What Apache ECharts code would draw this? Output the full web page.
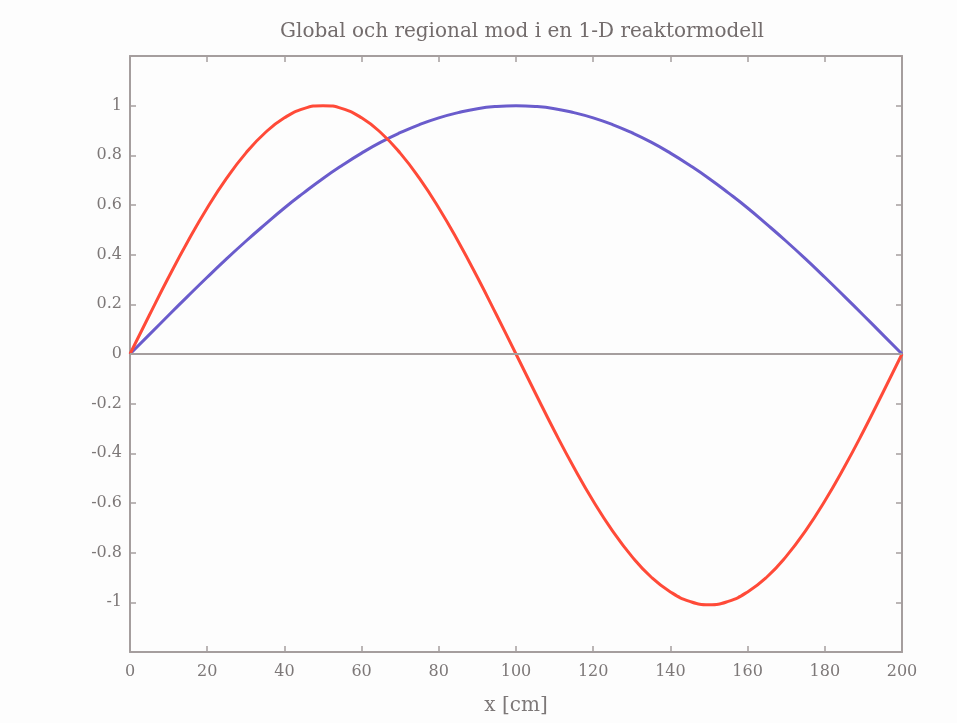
<!DOCTYPE html>
<html>
<head>
<meta charset="utf-8">
<script src="https://cdn.jsdelivr.net/npm/echarts@6/dist/echarts.min.js"></script>
<style>
  html, body { margin: 0; padding: 0; background: #fdfdfd; }
  #chart { width: 957px; height: 723px; }
</style>
</head>
<body>
<div id="chart"></div>
<script>
// Position along the 1-D reactor (cm), step 5
const xPositions = [0, 5, 10, 15, 20, 25, 30, 35, 40, 45, 50, 55, 60, 65, 70, 75, 80, 85, 90, 95,
  100, 105, 110, 115, 120, 125, 130, 135, 140, 145, 150, 155, 160, 165, 170, 175, 180, 185, 190, 195, 200];

// Global (fundamental) mode
const globalMode = [0, 0.078, 0.156, 0.233, 0.309, 0.383, 0.454, 0.522, 0.588, 0.649, 0.707, 0.760, 0.809,
  0.853, 0.891, 0.924, 0.951, 0.972, 0.988, 0.997, 1.0, 0.997, 0.988, 0.972, 0.951, 0.924, 0.891, 0.853,
  0.809, 0.760, 0.707, 0.649, 0.588, 0.522, 0.454, 0.383, 0.309, 0.233, 0.156, 0.078, 0];

// Regional (first harmonic) mode
const regionalMode = [0, 0.156, 0.309, 0.454, 0.588, 0.707, 0.809, 0.891, 0.951, 0.988, 1.0, 0.988, 0.951,
  0.891, 0.809, 0.707, 0.588, 0.454, 0.309, 0.156, 0, -0.157, -0.311, -0.457, -0.592, -0.712, -0.815,
  -0.898, -0.958, -0.996, -1.01, -0.996, -0.958, -0.898, -0.815, -0.712, -0.592, -0.457, -0.311, -0.157, 0];

const yTickLabels = ['-1', '-0.8', '-0.6', '-0.4', '-0.2', '0', '0.2', '0.4', '0.6', '0.8', '1'];

const axisGray = '#a59e9e';
const textGray = '#7d7878';
const fontFam = '"DejaVu Serif", "Liberation Serif", serif';

function pairs(ys) {
  return xPositions.map((x, i) => [x, ys[i]]);
}

function yLabel(v) {
  const s = String(Math.round(v * 10) / 10);
  return yTickLabels.indexOf(s) >= 0 ? s : '';
}

const chart = echarts.init(document.getElementById('chart'), null, { renderer: 'canvas' });

const xBase = {
  type: 'value', min: 0, max: 200, interval: 20,
  splitLine: { show: false },
  axisLine: { show: true, onZero: false, lineStyle: { color: axisGray, width: 2 } },
  axisTick: { show: true, inside: true, length: 6, lineStyle: { color: axisGray, width: 1.5 } }
};
const yBase = {
  type: 'value', min: -1.2, max: 1.2, interval: 0.2,
  splitLine: { show: false },
  axisLine: { show: true, onZero: false, lineStyle: { color: axisGray, width: 2 } },
  axisTick: { show: true, inside: true, length: 6, lineStyle: { color: axisGray, width: 1.5 } }
};

chart.setOption({
  backgroundColor: '#fdfdfd',
  animation: false,
  title: {
    text: 'Global och regional mod i en 1-D reaktormodell',
    left: 517, top: 17, textAlign: 'center',
    textStyle: { fontFamily: fontFam, fontSize: 20, fontWeight: 'normal', color: '#736c6c' }
  },
  grid: { left: 130, right: 55, top: 56, bottom: 71 },
  xAxis: [
    Object.assign({}, xBase, {
      position: 'bottom',
      name: 'x [cm]', nameLocation: 'middle', nameGap: 44,
      nameTextStyle: { fontFamily: fontFam, fontSize: 20, color: textGray },
      axisLabel: { show: true, margin: 12, fontFamily: fontFam, fontSize: 16, color: textGray }
    }),
    Object.assign({}, xBase, { position: 'top', axisLabel: { show: false } })
  ],
  yAxis: [
    Object.assign({}, yBase, {
      position: 'left',
      axisLabel: { show: true, margin: 8, fontFamily: fontFam, fontSize: 16, color: textGray, formatter: yLabel }
    }),
    Object.assign({}, yBase, { position: 'right', axisLabel: { show: false } })
  ],
  series: [
    {
      name: 'Global mod', type: 'line', xAxisIndex: 0, yAxisIndex: 0,
      data: pairs(globalMode), smooth: true, showSymbol: false,
      lineStyle: { color: '#6a5ccc', width: 3 },
      markLine: {
        silent: true, symbol: 'none', label: { show: false },
        lineStyle: { color: axisGray, width: 2, type: 'solid' },
        data: [{ yAxis: 0 }]
      },
      z: 3
    },
    {
      name: 'Regional mod', type: 'line', xAxisIndex: 0, yAxisIndex: 0,
      data: pairs(regionalMode), smooth: true, showSymbol: false,
      lineStyle: { color: '#ff4a38', width: 3 },
      z: 4
    }
  ]
});
</script>
</body>
</html>
